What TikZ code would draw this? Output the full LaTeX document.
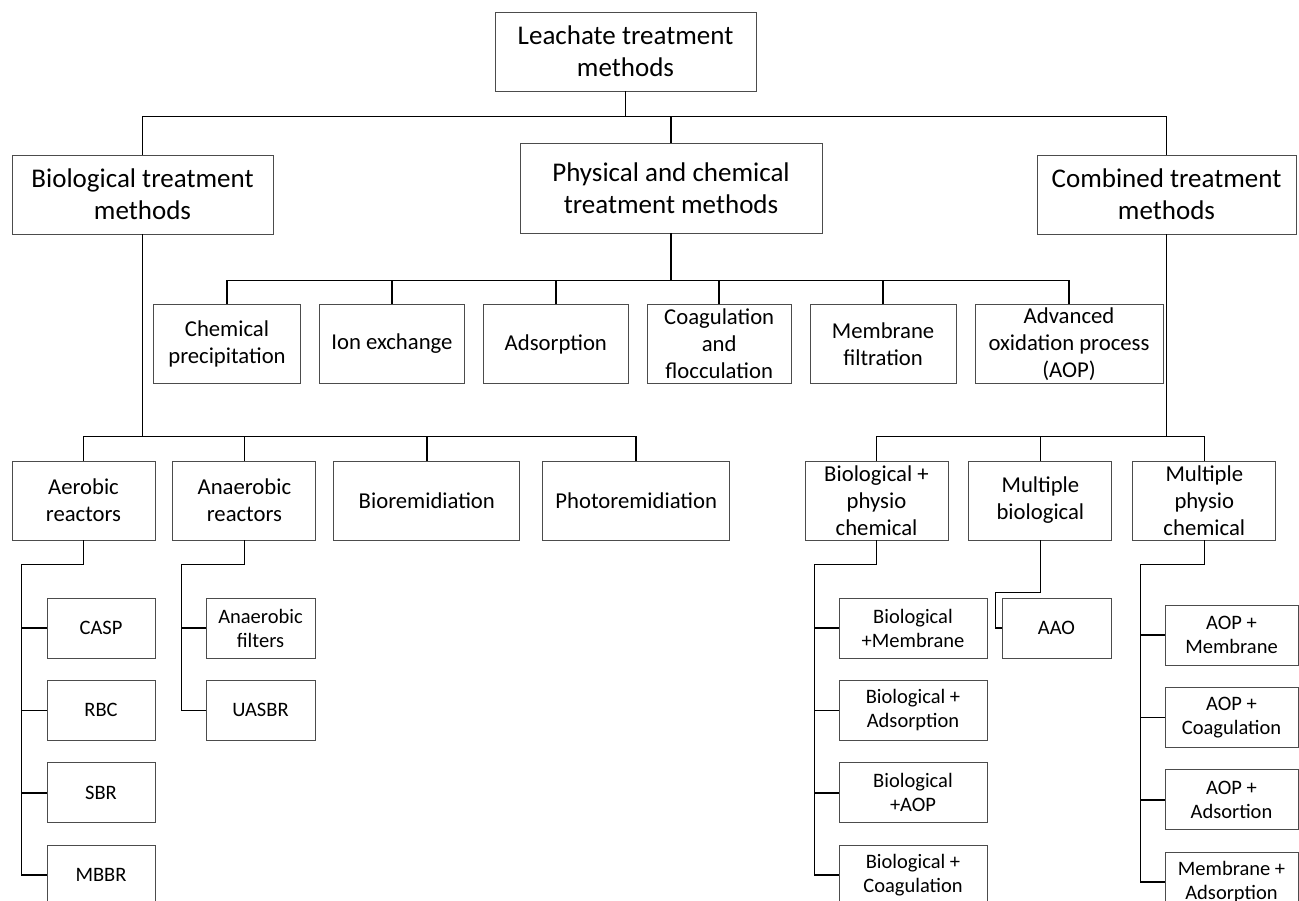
\documentclass[tikz,border=0pt]{standalone}
\usepackage{fontspec}
\setmainfont{Carlito}
\usetikzlibrary{positioning}
\tikzset{
  box/.style={draw=black!70, line width=0.9pt, align=center, inner sep=0pt},
  big/.style={box, font=\fontsize{27}{32}\selectfont, minimum height=79pt},
  mid/.style={box, font=\fontsize{22.7}{27}\selectfont, minimum height=79pt},
  leaf/.style={box, font=\fontsize{20.5}{24}\selectfont, minimum height=60pt},
  link/.style={line width=1.5pt, black},
  node distance=21.5pt
}

\begin{document}
\begin{tikzpicture}[x=1pt, y=-1pt]
    \path[use as bounding box, clip] (0,0) rectangle (1299,901);

    % top levels
    \node[big, minimum width=261pt] (top) at (625.5,51.5) {Leachate treatment\\methods};
    \node[big, minimum width=261pt] (bio) at (142.5,194.5) {Biological treatment\\methods};
    \node[big, minimum width=302pt, minimum height=90pt] (phys) at (671,188) {Physical and chemical\\treatment methods};
    \node[big, minimum width=259pt] (comb) at (1166.5,194.5) {Combined treatment\\methods};

    % physical and chemical
    \node[mid, minimum width=147pt] (chem) at (227,344) {Chemical\\precipitation};
    \node[mid, minimum width=145pt, right = 18pt of chem] (ion) {Ion exchange};
    \node[mid, minimum width=145pt, right = 18pt of ion] (ads) {Adsorption};
    \node[mid, minimum width=144pt, right = 18pt of ads] (coag) {Coagulation\\and\\flocculation};
    \node[mid, minimum width=146pt, right = 18pt of coag] (memb) {Membrane\\filtration};
    \node[mid, minimum width=188pt, right = 18pt of memb] (aop) {Advanced\\oxidation process\\(AOP)};

    % biological
    \node[mid, minimum width=143pt] (aer) at (83.5,500.5) {Aerobic\\reactors};
    \node[mid, minimum width=143pt, right = 17pt of aer] (ana) {Anaerobic\\reactors};
    \node[mid, minimum width=186pt, right = 17pt of ana] (biorem) {Bioremidiation};
    \node[mid, minimum width=187pt, right = 22pt of biorem] (photo) {Photoremidiation};

    % combined
    \node[mid, minimum width=143pt] (biophys) at (876.5,500.5) {Biological +\\physio\\chemical};
    \node[mid, minimum width=143pt, right = 20pt of biophys] (multbio) {Multiple\\biological};
    \node[mid, minimum width=143pt, right = 20pt of multbio] (multphys) {Multiple\\physio\\chemical};

    % leaves
    \node[leaf, minimum width=108pt] (casp) at (101,628) {CASP};
    \node[leaf, minimum width=108pt, below = of casp] (rbc) {RBC};
    \node[leaf, minimum width=108pt, below = of rbc] (sbr) {SBR};
    \node[leaf, minimum width=108pt, below = of sbr] (mbbr) {MBBR};

    \node[leaf, minimum width=109pt] (anfil) at (260.5,628) {Anaerobic\\filters};
    \node[leaf, minimum width=109pt, below = of anfil] (uasbr) {UASBR};

    \node[leaf, minimum width=148pt] (bm) at (913,628) {Biological\\+Membrane};
    \node[leaf, minimum width=148pt, below = of bm] (bads) {Biological +\\Adsorption};
    \node[leaf, minimum width=148pt, below = of bads] (baop) {Biological\\+AOP};
    \node[leaf, minimum width=148pt, below = of baop] (bcoag) {Biological +\\Coagulation};

    \node[leaf, minimum width=109pt] (aao) at (1056.5,628) {AAO};

    \node[leaf, minimum width=133pt] (am) at (1231.5,635) {AOP +\\Membrane};
    \node[leaf, minimum width=133pt, below = of am] (ac) {AOP +\\Coagulation};
    \node[leaf, minimum width=133pt, below = of ac] (aa) {AOP +\\Adsortion};
    \node[leaf, minimum width=133pt, below = of aa] (mads) {Membrane +\\Adsorption};

    % connectors
    \draw[link] (top.south) -- ++(0,25) -| (bio.north);
    \draw[link] (top.south) -- ++(0,25) -| (phys.north);
    \draw[link] (top.south) -- ++(0,25) -| (comb.north);

    \foreach \n in {chem,ion,ads,coag,memb,aop}
        \draw[link] (phys.south) -- ++(0,47) -| (\n.north);
    \foreach \n in {aer,ana,biorem,photo}
        \draw[link] (bio.south) -- ++(0,202) -| (\n.north);
    \foreach \n in {biophys,multbio,multphys}
        \draw[link] (comb.south) -- ++(0,202) -| (\n.north);

    \draw[link] (aer.south) -- ++(0,24) -| ([xshift=-25pt]mbbr.west) -- (mbbr.west);
    \foreach \n in {casp,rbc,sbr}
        \draw[link] (\n.west) -- ++(-25,0);

    \draw[link] (ana.south) -- ++(0,24) -| ([xshift=-24pt]uasbr.west) -- (uasbr.west);
    \draw[link] (anfil.west) -- ++(-24,0);

    \draw[link] (biophys.south) -- ++(0,24) -| ([xshift=-24pt]bcoag.west) -- (bcoag.west);
    \foreach \n in {bm,bads,baop}
        \draw[link] (\n.west) -- ++(-24,0);

    \draw[link] (multbio.south) -- ++(0,52) -| ([xshift=-6pt]aao.west) -- (aao.west);

    \draw[link] (multphys.south) -- ++(0,24) -| ([xshift=-24pt]mads.west) -- (mads.west);
    \foreach \n in {am,ac,aa}
        \draw[link] (\n.west) -- ++(-24,0);
\end{tikzpicture}
\end{document}
